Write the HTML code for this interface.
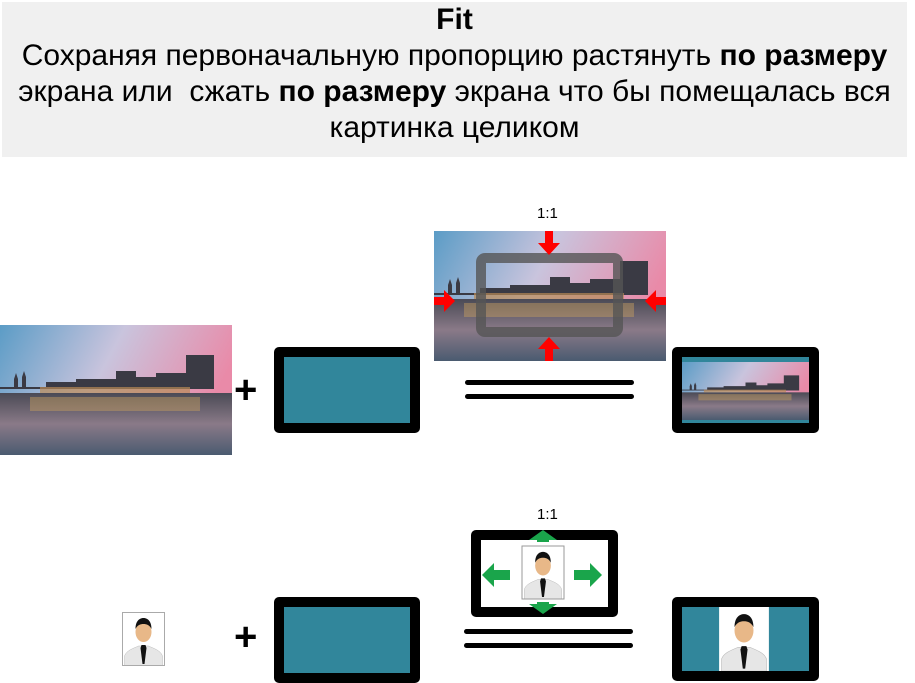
<!DOCTYPE html>
<html><head><meta charset="utf-8"><style>
body{margin:0;width:915px;height:683px;background:#fff;position:relative;overflow:hidden;font-family:"Liberation Sans",sans-serif}
.a{position:absolute}
.hdr{left:2px;top:2px;width:905px;height:155px;background:#f0f0f0;text-align:center;font-size:30px;line-height:36px;color:#000;white-space:nowrap}
.mon{position:absolute;border:10px solid #000;border-radius:5px;background:#31869b;box-sizing:border-box}
.plus{position:absolute;font-size:40px;font-weight:bold;line-height:40px}
.eq{position:absolute;height:5px;background:#000;border-radius:3px}
.lbl{position:absolute;font-size:15px}
</style></head><body>
<svg width="0" height="0" style="position:absolute">
<defs>
<linearGradient id="sky" x1="0" y1="0" x2="1" y2="0.3"><stop offset="0" stop-color="#5b9cc6"/><stop offset="0.5" stop-color="#c9c4dd"/><stop offset="1" stop-color="#e98aa8"/></linearGradient>
<linearGradient id="wat" x1="0" y1="0" x2="0" y2="1"><stop offset="0" stop-color="#4a4a55"/><stop offset="0.5" stop-color="#8a7a88"/><stop offset="1" stop-color="#4a5b70"/></linearGradient>
<symbol id="city" viewBox="0 0 232 130" preserveAspectRatio="none">
<rect width="232" height="130" fill="url(#sky)"/>
<rect y="68" width="232" height="62" fill="url(#wat)"/>
<path d="M0 68V62h14v-8l2-6 2 6v8h4v-10l2-6 2 6v10h20v-5h30v-3h40v-8h20v6h20v-4h30v-18h28v34H0z" fill="#3a3a44"/>
<rect x="40" y="62" width="150" height="6" fill="#b98a55" opacity=".7"/>
<rect x="30" y="72" width="170" height="14" fill="#c8a060" opacity=".45"/>
</symbol>
<symbol id="man" viewBox="0 0 42 54">
<rect width="42" height="54" fill="#fff"/>
<path d="M2 54V44c2-6 10-8 14-10h10c4 2 12 4 14 10v10z" fill="#e6e6e6" stroke="#bbb" stroke-width=".5"/>
<ellipse cx="21" cy="20" rx="8" ry="10" fill="#e8b888"/>
<path d="M13 17c0-8 4-11 8-11s8 3 8 11c-2-4-5-5-8-5s-6 1-8 5z" fill="#111"/>
<path d="M19 33h4l1 3-2 16-2 0-2-16z" fill="#111"/>
</symbol>
</defs></svg>

<div class="a hdr"><b>Fit</b><br>Сохраняя первоначальную пропорцию растянуть <b>по размеру</b><br>экрана или &nbsp;сжать <b>по размеру</b> экрана что бы помещалась вся<br>картинка целиком</div>

<!-- row 1 -->
<svg class="a" style="left:0;top:325px" width="232" height="130"><use href="#city"/></svg>
<div class="plus" style="left:234px;top:370px">+</div>
<div class="mon" style="left:274px;top:347px;width:146px;height:86px"></div>
<div class="lbl" style="left:537px;top:205px">1:1</div>
<svg class="a" style="left:434px;top:231px" width="232" height="130">
<use href="#city" width="232" height="130"/>
<rect x="47" y="27" width="137" height="74" rx="4" fill="none" stroke="#555" stroke-opacity=".8" stroke-width="10"/>
<path d="M111 0h8v12h7l-11 12-11-12h7z" fill="#f00"/>
<path d="M111 130h8v-12h7l-11-12-11 12h7z" fill="#f00"/>
<path d="M0 66v8h10v7l11-11-11-11v7z" fill="#f00"/>
<path d="M232 66v8h-10v7l-11-11 11-11v7z" fill="#f00"/>
</svg>
<div class="eq" style="left:465px;top:380px;width:169px"></div>
<div class="eq" style="left:465px;top:394px;width:169px"></div>
<div class="mon" style="left:672px;top:347px;width:147px;height:86px">
<svg class="a" style="left:0;top:5px" width="127" height="58"><use href="#city" width="127" height="58"/></svg>
</div>

<!-- row 2 -->
<svg class="a" style="left:122px;top:612px" width="43" height="54"><use href="#man"/><rect x=".5" y=".5" width="42" height="53" fill="none" stroke="#aaa"/></svg>
<div class="plus" style="left:234px;top:617px">+</div>
<div class="mon" style="left:274px;top:597px;width:146px;height:86px"></div>
<div class="lbl" style="left:537px;top:506px">1:1</div>
<div class="mon" style="left:471px;top:530px;width:147px;height:87px;background:#fff"></div>
<svg class="a" style="left:470px;top:528px" width="150" height="90">
<use href="#man" x="52" y="18" width="42" height="53"/>
<rect x="52" y="18" width="42" height="53" fill="none" stroke="#999"/>
<path d="M67 14h12v-2h8L73 2 59 12h8z" fill="#1aa54b"/>
<path d="M67 74h12v2h8L73 86 59 76h8z" fill="#1aa54b"/>
<path d="M40 42v10H24v7L12 47l12-12v7z" fill="#1aa54b"/>
<path d="M104 42v10h16v7l12-12-12-12v7z" fill="#1aa54b"/>
</svg>
<div class="eq" style="left:464px;top:629px;width:169px"></div>
<div class="eq" style="left:464px;top:643px;width:169px"></div>
<div class="mon" style="left:672px;top:597px;width:147px;height:84px">
<svg class="a" style="left:36px;top:0" width="52" height="64"><use href="#man" width="52" height="64" preserveAspectRatio="none"/></svg>
</div>
</body></html>
